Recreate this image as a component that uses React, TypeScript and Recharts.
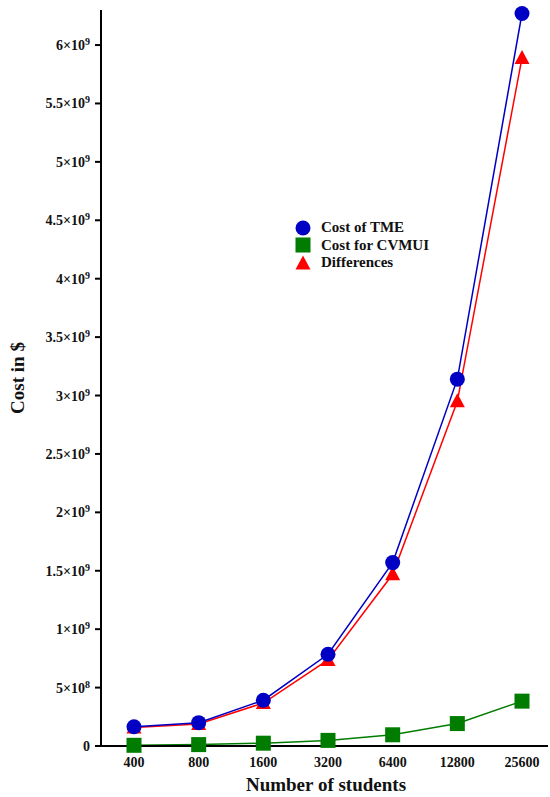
import { LineChart, Line, XAxis, YAxis, Label } from 'recharts'

const students = ['400', '800', '1600', '3200', '6400', '12800', '25600']
const costTme = [1.65e8, 2.0e8, 3.92e8, 7.85e8, 1.57e9, 3.14e9, 6.27e9]
const costCvmui = [6e6, 1.2e7, 2.4e7, 4.8e7, 9.6e7, 1.92e8, 3.84e8]
const differences = [1.59e8, 1.88e8, 3.68e8, 7.37e8, 1.47e9, 2.95e9, 5.89e9]
const yTicks = [0, 5e8, 1e9, 1.5e9, 2e9, 2.5e9, 3e9, 3.5e9, 4e9, 4.5e9, 5e9, 5.5e9, 6e9]

const BLUE = '#0000c4'
const GREEN = '#007d00'
const RED = '#ff0000'
const FONT = '"Liberation Serif", "Times New Roman", serif'

const data = students.map((s, i) => ({
  students: s,
  tme: costTme[i],
  cvmui: costCvmui[i],
  diff: differences[i],
}))

function splitSci(v: number): [string, string] | null {
  if (v === 0) return null
  const exp = Math.floor(Math.log10(v))
  const mant = Math.round((v / Math.pow(10, exp)) * 10) / 10
  return [String(mant), String(exp)]
}

function YTick(props: any) {
  const { x, y, payload } = props
  const parts = splitSci(payload.value)
  return (
    <text x={x - 3} y={y} dy={5} textAnchor="end" fontFamily={FONT} fontWeight="bold" fontSize={14} fill="#111">
      {parts ? (
        <>
          <tspan>{parts[0]}×10</tspan>
          <tspan dy={-5} fontSize={10}>{parts[1]}</tspan>
        </>
      ) : (
        '0'
      )}
    </text>
  )
}

function XTick(props: any) {
  const { x, y, payload } = props
  return (
    <text x={x} y={y} dy={13} textAnchor="middle" fontFamily={FONT} fontWeight="bold" fontSize={14} fill="#111">
      {payload.value}
    </text>
  )
}

function circleDot(props: any) {
  const { cx, cy, index } = props
  return <circle key={`c-${index}`} cx={cx} cy={cy} r={7.5} fill={BLUE} />
}

function squareDot(props: any) {
  const { cx, cy, index } = props
  return <rect key={`s-${index}`} x={cx - 7.5} y={cy - 7.5} width={15} height={15} fill={GREEN} />
}

function triangleDot(props: any) {
  const { cx, cy, index } = props
  return (
    <polygon
      key={`t-${index}`}
      points={`${cx},${cy - 8} ${cx + 7.5},${cy + 6} ${cx - 7.5},${cy + 6}`}
      fill={RED}
    />
  )
}

function LegendBox() {
  const rows = [
    { name: 'Cost of TME', icon: <circle cx={8} cy={8} r={7.5} fill={BLUE} /> },
    { name: 'Cost for CVMUI', icon: <rect x={0.5} y={0.5} width={15} height={15} fill={GREEN} /> },
    { name: 'Differences', icon: <polygon points="8,0.5 15.5,14.5 0.5,14.5" fill={RED} /> },
  ]
  return (
    <div
      style={{
        position: 'absolute',
        left: 295,
        top: 219,
        fontFamily: FONT,
        fontWeight: 'bold',
        fontSize: 15,
        color: '#111',
      }}
    >
      {rows.map((r) => (
        <div key={r.name} style={{ display: 'flex', alignItems: 'center', height: 17.5 }}>
          <svg width={16} height={16} style={{ marginRight: 10 }}>
            {r.icon}
          </svg>
          <span>{r.name}</span>
        </div>
      ))}
    </div>
  )
}

export default function App() {
  return (
    <div style={{ position: 'absolute', left: 0, top: 0, width: 550, height: 797, background: '#fff' }}>
      <LineChart
        width={550}
        height={797}
        data={data}
        margin={{ top: 10, right: 2, left: 0, bottom: 0 }}
        accessibilityLayer={false}
      >
        <XAxis
          dataKey="students"
          scale="point"
          padding={{ left: 33, right: 26 }}
          height={51}
          axisLine={{ stroke: '#000', strokeWidth: 2 }}
          tickLine={false}
          tick={<XTick />}
        >
          <Label
            content={() => (
              <text x={326} y={791} textAnchor="middle" fontFamily={FONT} fontWeight="bold" fontSize={19} fill="#111">
                Number of students
              </text>
            )}
          />
        </XAxis>
        <YAxis
          type="number"
          domain={[0, 6.3e9]}
          ticks={yTicks}
          width={101}
          axisLine={{ stroke: '#000', strokeWidth: 2 }}
          tickLine={{ stroke: '#000', strokeWidth: 2 }}
          tickSize={6}
          tick={<YTick />}
          interval={0}
        >
          <Label
            content={() => (
              <text
                x={24}
                y={378}
                transform="rotate(-90 24 378)"
                textAnchor="middle"
                fontFamily={FONT}
                fontWeight="bold"
                fontSize={19}
                fill="#111"
              >
                Cost in $
              </text>
            )}
          />
        </YAxis>
        <Line dataKey="diff" stroke={RED} strokeWidth={1.5} dot={triangleDot} activeDot={false} isAnimationActive={false} />
        <Line dataKey="cvmui" stroke={GREEN} strokeWidth={1.5} dot={squareDot} activeDot={false} isAnimationActive={false} />
        <Line dataKey="tme" stroke={BLUE} strokeWidth={1.5} dot={circleDot} activeDot={false} isAnimationActive={false} />
      </LineChart>
      <LegendBox />
    </div>
  )
}
